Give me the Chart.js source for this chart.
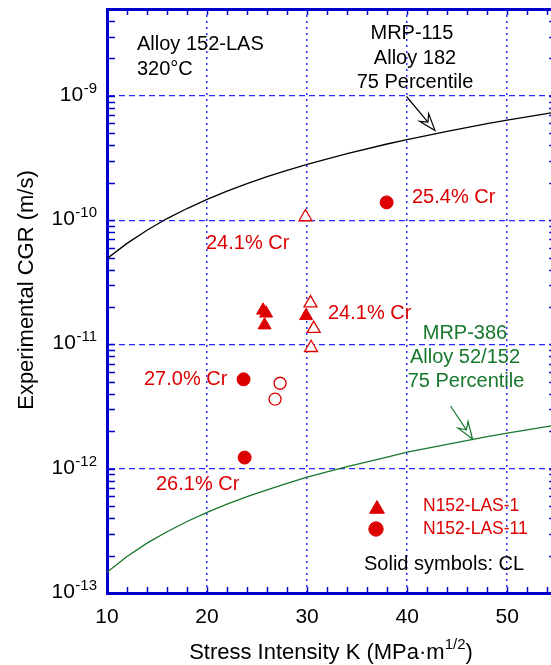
<!DOCTYPE html>
<html>
<head>
<meta charset="utf-8">
<script src="https://cdn.jsdelivr.net/npm/chart.js@4/dist/chart.umd.min.js"></script>
<style>
  html, body { margin: 0; padding: 0; background: #fff; overflow: hidden; }
  .chart-container { position: relative; width: 566px; height: 665px; }
</style>
</head>
<body>
<div class="chart-container">
  <canvas id="chart" width="566" height="665"></canvas>
</div>
<script>
// N152-LAS-1, triangles (filled = constant load)
const kTriSolid = [25.6, 25.9, 25.75, 29.9]
const cgrTriSolid = [1.88e-11, 1.78e-11, 1.43e-11, 1.70e-11]
const kTriOpen = [29.84, 30.34, 30.66, 30.4]
const cgrTriOpen = [1.06e-10, 2.15e-11, 1.34e-11, 9.4e-12]

// N152-LAS-11, circles
const kCircSolid = [23.65, 23.76, 37.95]
const cgrCircSolid = [5.24e-12, 1.23e-12, 1.39e-10]
const kCircOpen = [27.3, 26.8]
const cgrCircOpen = [4.87e-12, 3.63e-12]

// disposition curves
const kCurve = [10, 12, 14, 16, 18, 20, 22, 24, 26, 28, 30, 34, 38, 40, 44, 48, 50, 55]
const cgrMrp115 = [4.9e-11, 6.5e-11, 8.3e-11, 1.03e-10, 1.24e-10, 1.47e-10, 1.71e-10, 1.97e-10, 2.24e-10,
  2.52e-10, 2.81e-10, 3.43e-10, 4.1e-10, 4.45e-10, 5.19e-10, 5.97e-10, 6.38e-10, 7.42e-10]
const cgrMrp386 = [1.47e-13, 1.97e-13, 2.52e-13, 3.11e-13, 3.76e-13, 4.45e-13, 5.19e-13, 5.96e-13, 6.77e-13,
  7.63e-13, 8.55e-13, 1.04e-12, 1.24e-12, 1.36e-12, 1.57e-12, 1.81e-12, 1.93e-12, 2.25e-12]

const xTicks = [10, 12, 14, 16, 18, 20, 22, 24, 26, 28, 30, 32, 34, 36, 38, 40, 42, 44, 46, 48, 50, 52, 54]
const yDecades = [-13, -12, -11, -10, -9]

const RED = '#dd0000'
const GREEN = '#17772d'
const BLUE = '#0000cc'
const GRID = '#2a2aff'

const pts = (xs, ys) => xs.map((x, i) => ({ x: x, y: ys[i] }))

let yTickValues = []
yDecades.forEach(d => {
  for (let m = 1; m <= 9; m++) {
    const v = m * Math.pow(10, d)
    if (v <= 5e-9 * 1.0001) yTickValues.push(v)
  }
})

function text(ctx, str, x, y, font, color, align) {
  ctx.font = font
  ctx.fillStyle = color
  ctx.textAlign = align || 'left'
  ctx.textBaseline = 'alphabetic'
  ctx.fillText(str, x, y)
}

function arrow(ctx, x1, y1, x2, y2, color) {
  const ang = Math.atan2(y2 - y1, x2 - x1)
  const len = 17, half = 6, notch = 11
  const bx = x2 - Math.cos(ang) * len, by = y2 - Math.sin(ang) * len
  const nx = x2 - Math.cos(ang) * notch, ny = y2 - Math.sin(ang) * notch
  const px = -Math.sin(ang), py = Math.cos(ang)
  ctx.strokeStyle = color
  ctx.lineWidth = 1.2
  ctx.beginPath()
  ctx.moveTo(x1, y1)
  ctx.lineTo(nx, ny)
  ctx.stroke()
  ctx.beginPath()
  ctx.moveTo(x2, y2)
  ctx.lineTo(bx + px * half, by + py * half)
  ctx.lineTo(nx, ny)
  ctx.lineTo(bx - px * half, by - py * half)
  ctx.closePath()
  ctx.fillStyle = '#fff'
  ctx.fill()
  ctx.stroke()
}

const decorations = {
  id: 'decorations',
  afterDraw(chart) {
    const { ctx, chartArea: a, scales: { x, y } } = chart
    ctx.save()

    // inward tick marks
    ctx.strokeStyle = BLUE
    ctx.lineWidth = 1.5
    ctx.beginPath()
    yTickValues.forEach(v => {
      const py = Math.round(y.getPixelForValue(v)) + 0.5
      ctx.moveTo(a.left, py); ctx.lineTo(a.left + 8, py)
      ctx.moveTo(a.right, py); ctx.lineTo(a.right - 8, py)
    })
    xTicks.forEach(v => {
      const px = Math.round(x.getPixelForValue(v)) + 0.5
      ctx.moveTo(px, a.bottom); ctx.lineTo(px, a.bottom - 6)
      ctx.moveTo(px, a.top); ctx.lineTo(px, a.top + 6)
    })
    ctx.stroke()

    // y tick labels 10^n
    const big = '21px "Liberation Sans", Arial, sans-serif'
    const small = '15px "Liberation Sans", Arial, sans-serif'
    yDecades.forEach(d => {
      const py = y.getPixelForValue(Math.pow(10, d))
      const sup = String(d)
      ctx.font = small
      const sw = ctx.measureText(sup).width
      text(ctx, sup, 97, py - 3, small, '#000', 'right')
      text(ctx, '10', 97 - sw - 0.5, py + 5, big, '#000', 'right')
    })

    // x tick labels
    for (let v = 10; v <= 50; v += 10) {
      text(ctx, String(v), x.getPixelForValue(v), 623, big, '#000', 'center')
    }

    // axis titles
    const tf = '22px "Liberation Sans", Arial, sans-serif'
    ctx.font = tf
    const part1 = 'Stress Intensity K (MPa\u00b7m'
    const w1 = ctx.measureText(part1).width
    ctx.font = small
    const w2 = ctx.measureText('1/2').width
    ctx.font = tf
    const w3 = ctx.measureText(')').width
    const sx = 331 - (w1 + w2 + w3) / 2
    text(ctx, part1, sx, 659, tf, '#000')
    text(ctx, '1/2', sx + w1, 649, small, '#000')
    text(ctx, ')', sx + w1 + w2, 659, tf, '#000')

    ctx.save()
    ctx.translate(33, 290)
    ctx.rotate(-Math.PI / 2)
    text(ctx, 'Experimental CGR (m/s)', 0, 0, tf, '#000', 'center')
    ctx.restore()

    // annotations
    const af = '20px "Liberation Sans", Arial, sans-serif'
    text(ctx, 'Alloy 152-LAS', 137, 50, af, '#000')
    text(ctx, '320\u00b0C', 137, 75, af, '#000')
    text(ctx, 'MRP-115', 412, 39, af, '#000', 'center')
    text(ctx, 'Alloy 182', 415, 64, af, '#000', 'center')
    text(ctx, '75 Percentile', 415, 88, af, '#000', 'center')
    text(ctx, 'MRP-386', 465, 339, af, GREEN, 'center')
    text(ctx, 'Alloy 52/152', 465, 363, af, GREEN, 'center')
    text(ctx, '75 Percentile', 466, 387, af, GREEN, 'center')
    text(ctx, '25.4% Cr', 412, 203, af, RED)
    text(ctx, '24.1% Cr', 206, 249, af, RED)
    text(ctx, '24.1% Cr', 328, 319, af, RED)
    text(ctx, '27.0% Cr', 144, 385, af, RED)
    text(ctx, '26.1% Cr', 156, 490, af, RED)

    arrow(ctx, 406.5, 96.5, 435, 130.5, '#000')
    arrow(ctx, 450.5, 406, 472.5, 439, GREEN)

    // legend
    ctx.fillStyle = RED
    ctx.strokeStyle = RED
    ctx.lineWidth = 1
    Chart.helpers.drawPoint(ctx, { pointStyle: 'triangle', radius: 8.5, rotation: 0, borderWidth: 1 }, 377, 509)
    Chart.helpers.drawPoint(ctx, { pointStyle: 'circle', radius: 7.2, rotation: 0, borderWidth: 1 }, 376, 529)
    const lf = '17.5px "Liberation Sans", Arial, sans-serif'
    text(ctx, 'N152-LAS-1', 423, 511, lf, RED)
    text(ctx, 'N152-LAS-11', 423, 534, lf, RED)
    text(ctx, 'Solid symbols: CL', 364, 570, af, '#000')

    ctx.restore()
  }
}

const data = {
  datasets: [
    {
      label: 'MRP-115',
      data: pts(kCurve, cgrMrp115),
      showLine: true,
      borderColor: '#000',
      borderWidth: 1.3,
      pointRadius: 0,
      order: 5
    },
    {
      label: 'MRP-386',
      data: pts(kCurve, cgrMrp386),
      showLine: true,
      borderColor: GREEN,
      borderWidth: 1.3,
      pointRadius: 0,
      order: 5
    },
    {
      label: 'N152-LAS-1 open',
      data: pts(kTriOpen, cgrTriOpen),
      pointStyle: 'triangle',
      pointRadius: 7.5,
      backgroundColor: '#fff',
      borderColor: RED,
      borderWidth: 1.3,
      order: 2
    },
    {
      label: 'N152-LAS-1',
      data: pts(kTriSolid, cgrTriSolid),
      pointStyle: 'triangle',
      pointRadius: 7.5,
      backgroundColor: RED,
      borderColor: RED,
      borderWidth: 1,
      order: 1
    },
    {
      label: 'N152-LAS-11 open',
      data: pts(kCircOpen, cgrCircOpen),
      pointStyle: 'circle',
      pointRadius: 6,
      backgroundColor: '#fff',
      borderColor: RED,
      borderWidth: 1.3,
      order: 2
    },
    {
      label: 'N152-LAS-11',
      data: pts(kCircSolid, cgrCircSolid),
      pointStyle: 'circle',
      pointRadius: 6.5,
      backgroundColor: RED,
      borderColor: RED,
      borderWidth: 1,
      order: 1
    }
  ]
}

const config = {
  type: 'scatter',
  data: data,
  options: {
    responsive: false,
    animation: false,
    devicePixelRatio: 1,
    layout: { padding: { left: 0, top: 9, right: 3, bottom: 0 } },
    plugins: { legend: { display: false }, tooltip: { enabled: false } },
    elements: { point: { hoverRadius: 0 } },
    scales: {
      x: {
        type: 'linear',
        position: 'bottom',
        min: 10,
        max: 55,
        afterBuildTicks: s => { s.ticks = [20, 30, 40, 50].map(v => ({ value: v })) },
        afterFit: s => { s.height = 72 },
        ticks: { display: false },
        grid: { color: GRID, lineWidth: 1.5, drawTicks: false },
        border: { color: BLUE, width: 3, dash: c => c.type === 'tick' ? [2, 4] : [] }
      },
      xTop: {
        type: 'linear',
        position: 'top',
        min: 10,
        max: 55,
        afterFit: s => { s.height = 0 },
        ticks: { display: false },
        grid: { display: false, drawTicks: false },
        border: { color: BLUE, width: 3 }
      },
      y: {
        type: 'logarithmic',
        position: 'left',
        min: 1e-13,
        max: 5e-9,
        afterBuildTicks: s => { s.ticks = yDecades.slice(1).map(d => ({ value: Math.pow(10, d) })) },
        afterFit: s => { s.width = 107 },
        ticks: { display: false },
        grid: { color: GRID, lineWidth: 1.2, drawTicks: false },
        border: { color: BLUE, width: 3, dash: c => c.type === 'tick' ? [6, 4] : [] }
      },
      yRight: {
        type: 'linear',
        position: 'right',
        min: 0,
        max: 1,
        afterFit: s => { s.width = 0 },
        ticks: { display: false },
        grid: { display: false, drawTicks: false },
        border: { color: BLUE, width: 3 }
      }
    }
  },
  plugins: [decorations]
}

new Chart(document.getElementById('chart'), config)
</script>
</body>
</html>
